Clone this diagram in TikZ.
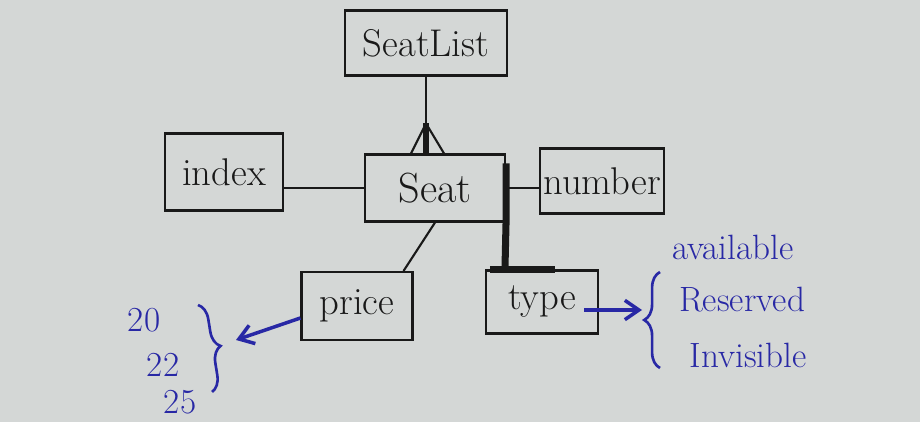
\documentclass[tikz,border=0pt]{standalone}
\usepackage{xcolor}
\usepackage{tikz}
\usetikzlibrary{shapes,arrows.meta,positioning,decorations.pathreplacing}
\definecolor{paper}{RGB}{212,215,214}
\definecolor{ink}{RGB}{25,25,25}
\definecolor{pen}{RGB}{40,40,165}
\tikzstyle{block} = [rectangle, draw=ink, line width=1.2pt, text=ink,
    font=\fontsize{22}{26}\selectfont, inner sep=2pt]
\tikzstyle{line} = [draw=ink, line width=1.2pt]
\tikzstyle{heavy} = [draw=ink, line width=4pt]
\tikzstyle{pointer} = [draw=pen, line width=2pt,
    -{Straight Barb[length=8pt,width=11pt]}]
\tikzstyle{note} = [text=pen, font=\fontsize{20}{24}\selectfont, inner sep=0pt]
\tikzstyle{curly} = [draw=pen, line width=1.5pt, decorate,
    decoration={brace, amplitude=9pt}]

\begin{document}
\begin{tikzpicture}[x=0.02cm, y=-0.02cm]
    % Paper
    \fill[paper] (0,0) rectangle (920,422);
    % Place nodes
    \node [block, font=\fontsize{24}{28}\selectfont, minimum width=2.8cm,
        minimum height=1.34cm] (seat) at (435,188) {Seat};
    \node [block, minimum width=3.24cm, minimum height=1.3cm] (seatlist) at (426,43) {SeatList};
    \node [block, minimum width=2.36cm, minimum height=1.54cm] (index) at (224,172) {index};
    \node [block, minimum width=2.38cm, minimum height=1.3cm] (number) at (602,181) {number};
    \node [block, minimum width=2.22cm, minimum height=1.36cm] (price) at (357,306) {price};
    \node [block, minimum width=2.24cm, minimum height=1.26cm] (type) at (542,302) {type};
    % Values
    \node [note] (p20) at (144,320) {20};
    \node [note] (p22) at (163,365) {22};
    \node [note] (p25) at (180,402) {25};
    \node [note] (avail) at (733,247) {available};
    \node [note] (reserved) at (742,300) {Reserved};
    \node [note] (invisible) at (748,355) {Invisible};
    % Draw edges
    \coordinate (foot) at (seatlist.south |- seat.north);
    \coordinate (fork) at ([yshift=0.6cm]foot);
    \path [line] (seatlist) -- (foot);
    \path [line] (fork) -- ([xshift=-0.3cm]foot);
    \path [line] (fork) -- ([xshift=0.36cm]foot);
    \path [line, line width=3pt] (fork) -- (foot);
    \path [line] (index.east |- seat.west) -- (seat.west);
    \path [line] (seat.east) -- (number.west |- seat.east);
    \path [line] (seat.south) -- ([xshift=-0.2cm]price.north east);
    \path [heavy] ([yshift=-0.2cm]seat.north east) -- (seat.south east)
        -- ([xshift=0.4cm]type.north west);
    \path [heavy] ([xshift=0.1cm]type.north west) -- ([xshift=1.4cm]type.north west);
    % Value sets
    \coordinate (pricetop) at (198,305);
    \coordinate (pricebot) at (212,392);
    \coordinate (typetop) at (660,272);
    \coordinate (typebot) at (660,368);
    \path [curly] (pricetop) -- (pricebot);
    \path [curly] (typebot) -- (typetop);
    \coordinate (pricetip) at (236,340);
    \coordinate (typetip) at (642,310);
    \path [pointer] ([yshift=-0.24cm]price.west) -- (pricetip);
    \path [pointer] ([xshift=-0.3cm,yshift=-0.16cm]type.east) -- (typetip);
\end{tikzpicture}
\end{document}
